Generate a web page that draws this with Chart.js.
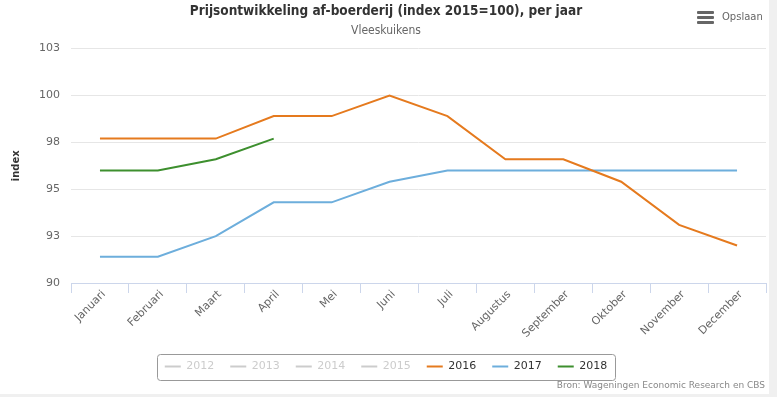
<!DOCTYPE html>
<html>
<head>
<meta charset="utf-8">
<script src="https://cdn.jsdelivr.net/npm/chart.js@4/dist/chart.umd.min.js"></script>
<style>
html,body{margin:0;padding:0;background:#f0f0f0;width:777px;height:397px;overflow:hidden;}
#wrap{position:absolute;left:0;top:0;width:769px;height:394px;background:#fff;}
#c{position:absolute;left:0;top:0;}
#save{position:absolute;left:697px;top:10px;height:14px;font:10px 'DejaVu Sans',sans-serif;color:#666;}
#save .bars{position:absolute;left:0;top:1px;width:17px;}
#save .bars i{display:block;height:3px;background:#666;margin-bottom:2px;border-radius:1px;}
#save .txt{position:absolute;left:25px;top:1px;white-space:nowrap;}
#src{position:absolute;right:4px;top:380px;font:9px 'DejaVu Sans',sans-serif;color:#888;white-space:nowrap;}
</style>
</head>
<body>
<div id="wrap">
<canvas id="c" width="769" height="394"></canvas>
<div id="save"><div class="bars"><i></i><i></i><i></i></div><span class="txt">Opslaan</span></div>
<div id="src">Bron: Wageningen Economic Research en CBS</div>
</div>
<script>
// ---- data ----
const months = ['Januari','Februari','Maart','April','Mei','Juni','Juli','Augustus','September','Oktober','November','December'];
const legendYears = ['2012','2013','2014','2015','2016','2017','2018'];
const values2016 = [97.7,97.7,97.7,98.9,98.9,100.0,98.9,96.6,96.6,95.4,93.1,92.0];
const values2017 = [91.4,91.4,92.5,94.3,94.3,95.4,96.0,96.0,96.0,96.0,96.0,96.0];
const values2018 = [96.0,96.0,96.6,97.7];
const yTickValues = [90,92.5,95,97.5,100,102.5];
const yTickLabels = ['90','93','95','98','100','103'];

const colors = {'2016':'#E57A1E','2017':'#6DAEDC','2018':'#3D8F2E'};
const inactive = '#cccccc';

const legendBox = {
  id:'legendBox',
  afterDraw(chart){
    const lg = chart.legend;
    if(!lg || !lg.legendHitBoxes || !lg.legendHitBoxes.length) return;
    const hb = lg.legendHitBoxes;
    let l = Math.min(...hb.map(h=>h.left)), r = Math.max(...hb.map(h=>h.left+h.width));
    let t = Math.min(...hb.map(h=>h.top)), b = Math.max(...hb.map(h=>h.top+h.height));
    const ctx = chart.ctx;
    ctx.save();
    ctx.strokeStyle = '#999';
    ctx.lineWidth = 1;
    const x = Math.round(l-8)+0.5, y = Math.round(t-7)+0.5, w = Math.round(r-l+16), h = Math.round(b-t+15);
    ctx.beginPath();
    ctx.roundRect(x,y,w,h,3);
    ctx.stroke();
    ctx.restore();
  }
};

new Chart(document.getElementById('c'), {
  type:'line',
  data:{
    labels: months,
    datasets:[
      {label:'2016', data:values2016, borderColor:colors['2016'], backgroundColor:colors['2016']},
      {label:'2017', data:values2017, borderColor:colors['2017'], backgroundColor:colors['2017']},
      {label:'2018', data:values2018, borderColor:colors['2018'], backgroundColor:colors['2018']}
    ]
  },
  options:{
    responsive:false,
    animation:false,
    events:[],
    elements:{line:{borderWidth:2, tension:0}, point:{radius:0}},
    layout:{padding:{left:6,right:3,top:0,bottom:12}},
    plugins:{
      title:{display:true,text:'Prijsontwikkeling af-boerderij (index 2015=100), per jaar',
        color:'#333', font:{family:"'DejaVu Sans Condensed','Liberation Sans Narrow','DejaVu Sans'",size:13.5,weight:'bold'},
        padding:{top:3,bottom:2}},
      subtitle:{display:true,text:'Vleeskuikens',color:'#666',
        font:{family:"'DejaVu Sans Condensed','Liberation Sans Narrow','DejaVu Sans'",size:12},
        padding:{top:2,bottom:11}},
      tooltip:{enabled:false},
      legend:{
        position:'bottom',
        labels:{
          usePointStyle:true, pointStyle:'line', pointStyleWidth:16,
          padding:16, color:'#333',
          font:{family:"'DejaVu Sans'",size:11},
          generateLabels(){
            return legendYears.map((y,i)=>{
              const c = colors[y] || inactive;
              return {text:y, fillStyle:c, strokeStyle:c, lineWidth:2, pointStyle:'line',
                fontColor: colors[y] ? '#333' : inactive, hidden:false, datasetIndex:i};
            });
          }
        }
      }
    },
    scales:{
      x:{
        offset:true,
        grid:{offset:true, drawOnChartArea:false, drawTicks:true, tickLength:10, color:'#ccd6eb'},
        border:{display:true, color:'#ccd6eb'},
        ticks:{autoSkip:false, maxRotation:45, minRotation:45, color:'#666', padding:-5, labelOffset:4,
          font:{family:"'DejaVu Sans'",size:11}},
        afterFit(s){ s.height = 62; }
      },
      y:{
        min:90, max:102.5,
        afterBuildTicks(s){ s.ticks = yTickValues.map(v=>({value:v})); },
        grid:{color:'#e6e6e6', drawTicks:false},
        border:{display:false},
        ticks:{padding:11, color:'#666', font:{family:"'DejaVu Sans'",size:11},
          callback(v){ const i = yTickValues.indexOf(v); return i>=0 ? yTickLabels[i] : ''; }},
        title:{display:true, text:'index', color:'#333', font:{family:"'DejaVu Sans'",size:10,weight:'bold'}, padding:{top:4,bottom:0}},
        afterFit(s){ s.width = 65; }
      }
    }
  },
  plugins:[legendBox]
});
</script>
</body>
</html>
